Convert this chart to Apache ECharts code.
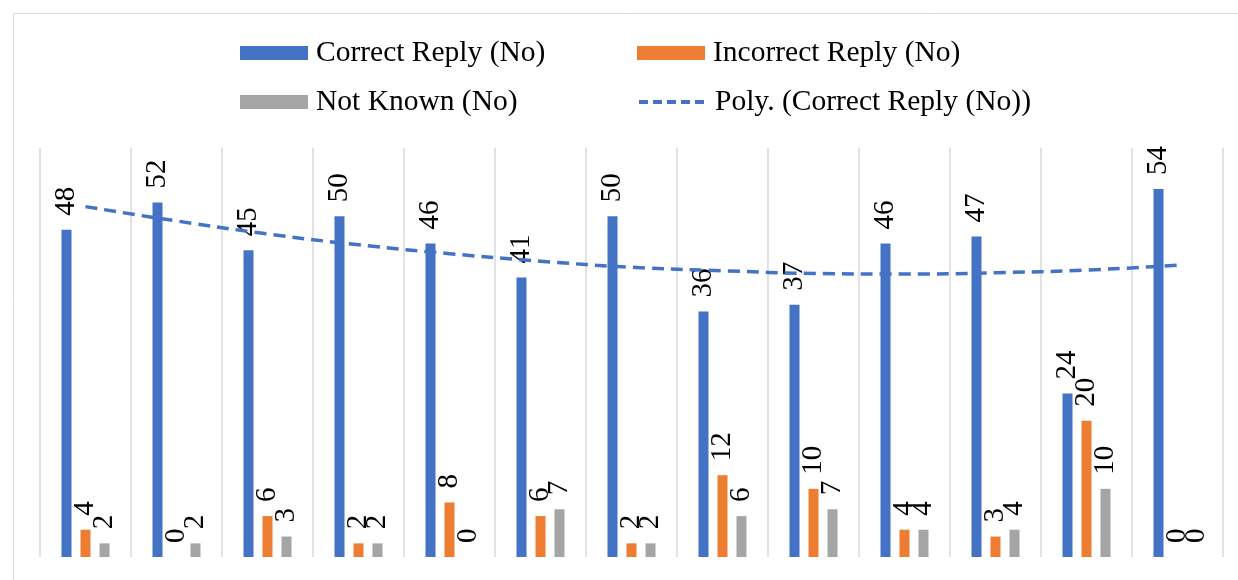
<!DOCTYPE html>
<html>
<head>
<meta charset="utf-8">
<style>
  html, body { margin: 0; padding: 0; background: #fff; }
  #chart { width: 1238px; height: 580px; }
</style>
<script src="https://cdn.jsdelivr.net/npm/echarts@6/dist/echarts.min.js"></script>
</head>
<body>
<div id="chart"></div>
<script>
// 13 groups, no axis labels shown in the picture
var categories = ['1', '2', '3', '4', '5', '6', '7', '8', '9', '10', '11', '12', '13']
var correctReply = [48, 52, 45, 50, 46, 41, 50, 36, 37, 46, 47, 24, 54]
var incorrectReply = [4, 0, 6, 2, 8, 6, 2, 12, 10, 4, 3, 20, 0]
var notKnown = [2, 2, 3, 2, 0, 7, 2, 6, 7, 4, 4, 10, 0]
// trendline at each group centre
var polyCorrect = [51.4, 49.3, 47.4, 45.8, 44.5, 43.4, 42.5, 42.0, 41.6, 41.5, 41.7, 42.1, 42.8]

var serif = 'Liberation Serif'

function barLabel () {
  return {
    show: true,
    position: 'top',
    rotate: 90,
    align: 'left',
    verticalAlign: 'middle',
    distance: 14,
    color: '#000',
    fontFamily: serif,
    fontSize: 29
  }
}

function legendAt (name, left, top, icon) {
  var lg = {
    data: [name],
    left: left,
    top: top,
    padding: 0,
    itemWidth: 68,
    itemHeight: 14,
    textStyle: {
      fontFamily: serif,
      fontSize: 29.5,
      color: '#000',
      padding: [0, 0, 0, 3]
    }
  }
  if (icon) {
    lg.icon = icon
  } else {
    // only the dashed line, no dot
    lg.itemStyle = { opacity: 0 }
    lg.lineStyle = { width: 4, type: [9, 5] }
  }
  return lg
}

var chart = echarts.init(document.getElementById('chart'))
chart.setOption({
  animation: false,
  backgroundColor: '#fff',
  graphic: [{
    type: 'rect',
    left: 11,
    top: 11,
    shape: { width: 1240, height: 600 },
    style: { fill: 'none', stroke: '#d9d9d9', lineWidth: 1 }
  }],
  legend: [
    legendAt('Correct Reply (No)', 240, 38, 'rect'),
    legendAt('Incorrect Reply (No)', 637, 38, 'rect'),
    legendAt('Not Known (No)', 240, 87, 'rect'),
    legendAt('Poly. (Correct Reply (No))', 637, 87)
  ],
  grid: {
    left: 40,
    top: 148,
    width: 1183,
    height: 409
  },
  xAxis: {
    type: 'category',
    data: categories,
    boundaryGap: true,
    axisLine: { show: false },
    axisTick: { show: false },
    axisLabel: { show: false },
    splitLine: {
      show: true,
      lineStyle: { color: '#d9d9d9', width: 1.5 }
    }
  },
  yAxis: {
    type: 'value',
    min: 0,
    max: 60,
    show: false,
    splitLine: { show: false }
  },
  series: [{
    name: 'Correct Reply (No)',
    type: 'bar',
    data: correctReply,
    barWidth: 10,
    barGap: '90%',
    itemStyle: { color: '#4472C4' },
    label: barLabel()
  }, {
    name: 'Incorrect Reply (No)',
    type: 'bar',
    data: incorrectReply,
    barWidth: 10,
    barGap: '90%',
    itemStyle: { color: '#ED7D31' },
    label: barLabel()
  }, {
    name: 'Not Known (No)',
    type: 'bar',
    data: notKnown,
    barWidth: 10,
    barGap: '90%',
    itemStyle: { color: '#A5A5A5' },
    label: barLabel()
  }, {
    name: 'Poly. (Correct Reply (No))',
    type: 'line',
    data: polyCorrect,
    smooth: true,
    symbol: 'none',
    z: 5,
    itemStyle: { color: '#4472C4' },
    lineStyle: {
      color: '#4472C4',
      width: 3.5,
      type: [12, 7]
    }
  }]
})
</script>
</body>
</html>
